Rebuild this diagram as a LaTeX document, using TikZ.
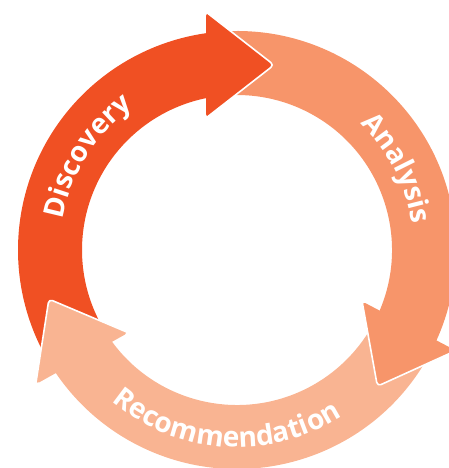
\documentclass[tikz,border=0pt]{standalone}
\usepackage{fontspec}
\setmainfont{Open Sans}
\usetikzlibrary{decorations.text}
\definecolor{disc}{RGB}{240,80,35}
\definecolor{anal}{RGB}{247,149,106}
\definecolor{reco}{RGB}{249,180,146}
\tikzset{
  headfill/.style={rounded corners=4pt},
  headline/.style={draw=white, line width=1.6pt, rounded corners=4pt, line join=round},
  arclabel/.style={decorate, decoration={text along path, text align=center, text color=white}},
}
\newcommand{\cyclabelfont}{\fontsize{28}{28}\selectfont\bfseries}
\begin{document}
\begin{tikzpicture}[x=1pt,y=1pt]
\useasboundingbox (-237,-218) rectangle (212,250);
% bodies
\fill[disc] (210:219pt) arc[start angle=210, end angle=96.5, radius=219pt] -- (96.5:155pt) arc[start angle=96.5, end angle=210, radius=155pt] -- cycle;
\fill[anal] (94:219pt) arc[start angle=94, end angle=-26.8, radius=219pt] -- (-26.8:155pt) arc[start angle=-26.8, end angle=94, radius=155pt] -- cycle;
\fill[reco] (-28:219pt) arc[start angle=-28, end angle=-148, radius=219pt] -- (-148:155pt) arc[start angle=-148, end angle=-28, radius=155pt] -- cycle;
% heads
\coordinate (d1) at (-31,238);
\coordinate (dt) at (37,185);
\coordinate (d2) at (-31,132);
\coordinate (a1) at (218.9,-100.6);
\coordinate (at) at (140.4,-136.2);
\coordinate (a2) at (125.1,-51.4);
\coordinate (r1) at (-108.7,-82.7);
\coordinate (rt) at (-188.1,-49.1);
\coordinate (r2) at (-201.3,-134.3);
\fill[disc, headfill] (d1) -- (dt) -- (d2) -- cycle;
\draw[headline] (d1) -- (dt) -- (d2);
\fill[anal, headfill] (a1) -- (at) -- (a2) -- cycle;
\draw[headline] (a1) -- (at) -- (a2);
\fill[reco, headfill] (r1) -- (rt) -- (r2) -- cycle;
\draw[headline] (r1) -- (rt) -- (r2);
% labels
\path[arclabel, decoration={text={|\cyclabelfont|Discovery}}] (190:177pt) arc[start angle=190, end angle=106, radius=177pt];
\path[arclabel, decoration={text={|\cyclabelfont|Analysis}}] (69:177pt) arc[start angle=69, end angle=-15, radius=177pt];
\path[arclabel, decoration={text={|\cyclabelfont|Recommendation}}] (214:197pt) arc[start angle=214, end angle=318.8, radius=197pt];
\end{tikzpicture}
\end{document}
